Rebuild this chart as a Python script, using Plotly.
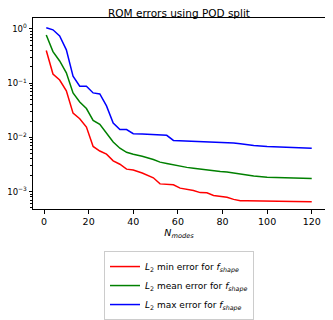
import plotly.graph_objects as go

# mode counts
n_modes = [1, 4, 7, 10, 13, 16, 19, 22, 25, 28, 31, 34, 37, 40, 44, 49, 52, 55, 58,
           61, 64, 67, 70, 73, 76, 79, 82, 85, 88, 91, 94, 100, 106, 112, 120]

err_min = [0.40, 0.147, 0.114, 0.072, 0.028, 0.022, 0.0155, 0.0068, 0.0056, 0.0049,
           0.0037, 0.0032, 0.0026, 0.0025, 0.0022, 0.0018, 0.00139, 0.00137, 0.00134,
           0.00116, 0.0011, 0.00105, 0.00096, 0.00095, 0.00085, 0.00083, 0.00079,
           0.00072, 0.00068, 0.00068, 0.00068, 0.00067, 0.00067, 0.00066, 0.00065]

err_mean = [0.77, 0.38, 0.256, 0.155, 0.066, 0.045, 0.034, 0.0206, 0.0174, 0.012,
            0.0082, 0.0063, 0.0053, 0.0049, 0.0045, 0.0039, 0.0035, 0.0033, 0.0031,
            0.0029, 0.0028, 0.0027, 0.0026, 0.0025, 0.0024, 0.00235, 0.0023, 0.0022,
            0.0021, 0.0020, 0.00195, 0.00184, 0.0018, 0.00176, 0.00174]

err_max = [1.05, 0.96, 0.74, 0.41, 0.134, 0.088, 0.088, 0.066, 0.063, 0.038,
           0.0184, 0.0139, 0.0139, 0.0117, 0.0115, 0.0113, 0.0111, 0.0109, 0.0088,
           0.0087, 0.0087, 0.0086, 0.0085, 0.0085, 0.0084, 0.0083, 0.0082, 0.0079,
           0.0076, 0.0073, 0.0071, 0.0068, 0.0066, 0.0065, 0.0063]

y_tick_vals = [1, 0.1, 0.01, 0.001]
y_tick_text = ["10<sup>0</sup>", "10<sup>\u22121</sup>", "10<sup>\u22122</sup>", "10<sup>\u22123</sup>"]

labels = ["<i>L</i><sub>2</sub> min error for <i>f<sub>shape</sub></i>",
          "<i>L</i><sub>2</sub> mean error for <i>f<sub>shape</sub></i>",
          "<i>L</i><sub>2</sub> max error for <i>f<sub>shape</sub></i>"]

fig = go.Figure()
for ys, name, color in zip([err_min, err_mean, err_max], labels, ["#ff0000", "#008000", "#0000ff"]):
    fig.add_trace(go.Scatter(x=n_modes, y=ys, mode="lines", name=name,
                             line=dict(color=color, width=1.5)))

axis_style = dict(showline=True, mirror=True, linecolor="black", linewidth=1,
                  ticks="outside", ticklen=3.5, tickcolor="black", showgrid=False,
                  zeroline=False, automargin=False)

fig.update_xaxes(range=[-4.95, 125.95], tickvals=[0, 20, 40, 60, 80, 100, 120],
                 tickfont=dict(size=9.5, color="black"),
                 title=dict(text="<i>N<sub>modes</sub></i>", font=dict(size=9.5), standoff=3),
                 **axis_style)
fig.update_yaxes(type="log", range=[-3.32, 0.2], tickvals=y_tick_vals, ticktext=y_tick_text,
                 tickfont=dict(size=8.5, color="black"),
                 minor=dict(dtick="D1", ticks="outside", ticklen=2, tickcolor="black",
                            showgrid=False),
                 **axis_style)

# the page body keeps an 8px margin, so the figure is sized to fit inside it
fig.update_layout(
    width=325, height=312,
    margin=dict(l=25, r=8, t=10, b=111),
    paper_bgcolor="white", plot_bgcolor="white",
    font=dict(family="DejaVu Sans", color="black"),
    title=dict(text="ROM errors using POD split", x=0.5, xref="paper", xanchor="center",
               y=0.983, yanchor="middle", font=dict(size=10.5), automargin=False),
    legend=dict(x=0.5, xanchor="center", y=0.221, yref="container", yanchor="top",
                bordercolor="#cccccc", borderwidth=1, bgcolor="white",
                font=dict(size=9), tracegroupgap=0, itemwidth=30),
)

fig.write_html("out.html")
